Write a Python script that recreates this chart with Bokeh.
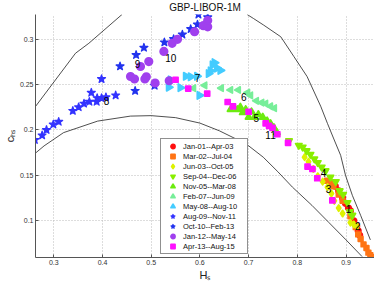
import numpy as np
from bokeh.plotting import figure
from bokeh.models import FixedTicker, Legend, LegendItem, Range1d, Title
from bokeh.embed import file_html
from bokeh.resources import INLINE
from bokeh.core.properties import value

FONT = "Liberation Sans"
title = "GBP-LIBOR-1M"
x_label = "H\u209b"
y_label = "c\u2095\u209b"

x_ticks = [0.3, 0.4, 0.5, 0.6, 0.7, 0.8, 0.9]
y_ticks = [0.1, 0.15, 0.2, 0.25, 0.3]
y_tick_labels = ["0.1", "0.15", "0.2", "0.25", "0.3"]

# boundary curves
upper_x = [0.2624, 0.3446, 0.3719, 0.44, np.nan, 0.697, 0.71, 0.731, 0.766, 0.793, 0.820, 0.848,
           0.862, 0.875, 0.889, 0.899, 0.913, 0.930, 0.950]
upper_y = [0.2258, 0.2844, 0.2953, 0.327, np.nan, 0.327, 0.3226, 0.3153, 0.3025, 0.2807, 0.2588, 0.2261,
           0.207, 0.190, 0.172, 0.150, 0.128, 0.106, 0.079]
lower_x = [0.2624, 0.28, 0.32, 0.39, 0.4575, 0.50, 0.55, 0.60, 0.64, 0.68, 0.70, 0.73, 0.76, 0.79,
           0.83, 0.865, 0.90, 0.933]
lower_y = [0.1745, 0.1824, 0.197, 0.2097, 0.2152, 0.2157, 0.2135, 0.2075, 0.199, 0.1885, 0.1825, 0.170,
           0.154, 0.137, 0.117, 0.098, 0.079, 0.0606]

series_names = ["Jan-01--Apr-03", "Mar-02--Jul-04", "Jun-03--Oct-05", "Sep-04--Dec-06",
                "Nov-05--Mar-08", "Feb-07--Jun-09", "May-08--Aug-10", "Aug-09--Nov-11",
                "Oct-10--Feb-13", "Jan-12--May-14", "Apr-13--Aug-15"]

x1 = [0.878, 0.885, 0.893, 0.899, 0.905, 0.909, 0.916, 0.922, 0.925, 0.928]
y1 = [0.138, 0.133, 0.125, 0.119, 0.114, 0.111, 0.100, 0.094, 0.089, 0.084]

x2 = [0.861, 0.868, 0.874, 0.885, 0.893, 0.909, 0.920, 0.925, 0.930, 0.936, 0.942, 0.946, 0.950, 0.952]
y2 = [0.144, 0.142, 0.138, 0.129, 0.122, 0.105, 0.093, 0.085, 0.080, 0.074, 0.070, 0.065, 0.062, 0.060]

x3 = [0.815, 0.823, 0.833, 0.842, 0.852, 0.862, 0.870, 0.876, 0.885, 0.893, 0.909, 0.916, 0.922]
y3 = [0.170, 0.165, 0.157, 0.149, 0.143, 0.137, 0.130, 0.122, 0.114, 0.108, 0.098, 0.096, 0.094]

x4 = [0.783, 0.803, 0.811, 0.819, 0.827, 0.835, 0.842, 0.850, 0.858, 0.868, 0.879, 0.887, 0.894,
      0.903, 0.908, 0.913]
y4 = [0.188, 0.183, 0.181, 0.177, 0.173, 0.168, 0.164, 0.159, 0.155, 0.148, 0.143, 0.133, 0.129,
      0.120, 0.110, 0.106]

x5 = [0.663, 0.677, 0.683, 0.688, 0.694, 0.700, 0.706, 0.712, 0.720, 0.729, 0.738, 0.745, 0.752, 0.758]
y5 = [0.2225, 0.2225, 0.225, 0.219, 0.2225, 0.214, 0.220, 0.214, 0.217, 0.214, 0.210, 0.207, 0.2025, 0.197]

x6 = [0.587, 0.610, 0.644, 0.663, 0.679, 0.698, 0.704, 0.716, 0.727, 0.735, 0.745, 0.753]
y6 = [0.246, 0.249, 0.246, 0.244, 0.244, 0.241, 0.238, 0.232, 0.230, 0.229, 0.226, 0.224]

x7 = [0.536, 0.540, 0.560, 0.571, 0.581, 0.594, 0.599, 0.618, 0.622, 0.626, 0.630, 0.635, 0.642]
y7 = [0.247, 0.255, 0.2465, 0.259, 0.2585, 0.259, 0.238, 0.262, 0.265, 0.2715, 0.274, 0.268, 0.2655]

x8 = [0.261, 0.276, 0.285, 0.299, 0.310, 0.339, 0.351, 0.362, 0.373, 0.377, 0.388, 0.389, 0.398,
      0.407, 0.398, 0.427]
y8 = [0.189, 0.194, 0.200, 0.206, 0.209, 0.221, 0.225, 0.229, 0.231, 0.241, 0.231, 0.235, 0.235,
      0.236, 0.256, 0.238]

x9 = [0.436, 0.467, 0.469, 0.485, 0.507, 0.527, 0.546, 0.564, 0.581, 0.595, 0.597, 0.616]
y9 = [0.270, 0.243, 0.2825, 0.2905, 0.2487, 0.2964, 0.300, 0.305, 0.311, 0.316, 0.327, 0.324]

x10 = [0.4575, 0.4657, 0.478, 0.487, 0.490, 0.495, 0.508, 0.526, 0.537, 0.543, 0.554, 0.589, 0.607,
       0.616, 0.616]
y10 = [0.2588, 0.256, 0.2698, 0.256, 0.2585, 0.2752, 0.2516, 0.2864, 0.2541, 0.2953, 0.2997, 0.308,
       0.3147, 0.3204, 0.3134]

x11 = [0.550, 0.576, 0.615, 0.657, 0.668, 0.700, 0.735, 0.742, 0.749, 0.759, 0.781, 0.821, 0.831,
       0.841, 0.872]
y11 = [0.2552, 0.2454, 0.240, 0.2307, 0.2258, 0.220, 0.2072, 0.2045, 0.2023, 0.1952, 0.1857, 0.1597,
       0.157, 0.1468, 0.1224]

label_x = [0.905, 0.924, 0.864, 0.854, 0.716, 0.690, 0.595, 0.408, 0.472, 0.540, 0.745]
label_y = [0.113, 0.094, 0.135, 0.153, 0.213, 0.236, 0.257, 0.232, 0.273, 0.279, 0.194]
label_text = ["1", "2", "3", "4", "5", "6", "7", "8", "9", "10", "11"]

xs = [x1, x2, x3, x4, x5, x6, x7, x8, x9, x10, x11]
ys = [y1, y2, y3, y4, y5, y6, y7, y8, y9, y10, y11]
markers = ["circle", "square", "diamond", "inverted_triangle", "triangle", "triangle", "triangle",
           "star", "star", "circle", "square"]
angles = [0, 0, 0, 0, 0, np.pi / 2, -np.pi / 2, 0, 0, 0, 0]
sizes = [5.4, 4.6, 6.3, 6.3, 6.3, 6.3, 7.3, 8.3, 8.3, 7.4, 4.9]
widths = [1.8, 1.8, 1.8, 1.8, 1.8, 1.8, 1.8, 1.3, 1.3, 1.8, 1.8]
colors = ["#FF1010", "#FF7414", "#DDF200", "#88EE00", "#6CEB10", "#77EE99", "#44CCFF",
          "#3333FF", "#2233EE", "#A040EE", "#FF10FF"]

p = figure(width=374, height=283, output_backend="svg", toolbar_location=None, title=None,
           x_range=Range1d(0.2624, 0.9585), y_range=Range1d(0.0596, 0.327),
           min_border_left=35, min_border_right=0, min_border_top=14, min_border_bottom=24)
p.outline_line_color = None
p.background_fill_color = "white"
p.border_fill_color = "white"

p.add_layout(Title(text=title, align="center", vertical_align="top", text_font_size="10px",
                   text_font=FONT, text_font_style="normal", text_color="#111111", standoff=0),
             "above")

p.xaxis.ticker = FixedTicker(ticks=x_ticks)
p.yaxis.ticker = FixedTicker(ticks=y_ticks)
p.yaxis.major_label_overrides = {t: s for t, s in zip(y_ticks, y_tick_labels)}
p.xaxis.axis_label = x_label
p.yaxis.axis_label = y_label
for ax in (p.xaxis[0], p.yaxis[0]):
    ax.major_tick_in = 3
    ax.major_tick_out = 0
    ax.minor_tick_line_color = None
    ax.axis_line_color = "#555555"
    ax.major_tick_line_color = "#555555"
    ax.major_label_text_font_size = "7px"
    ax.major_label_text_color = "#333333"
    ax.major_label_text_font = FONT
    ax.major_label_standoff = 2
    ax.axis_label_text_font = FONT
    ax.axis_label_text_font_size = "11px"
    ax.axis_label_text_font_style = "normal"
    ax.axis_label_text_color = "#222222"
    ax.axis_label_standoff = 1
for g in (p.xgrid[0], p.ygrid[0]):
    g.grid_line_color = "#BBBBBB"
    g.grid_line_dash = "1 2"
    g.grid_line_width = 1
p.xgrid.ticker = FixedTicker(ticks=x_ticks)
p.ygrid.ticker = FixedTicker(ticks=y_ticks)

p.line(upper_x, upper_y, line_color="#222222", line_width=0.8)
p.line(lower_x, lower_y, line_color="#222222", line_width=0.8)

items = []
for name, x, y, m, a, s, w, c in zip(series_names, xs, ys, markers, angles, sizes, widths, colors):
    r = p.scatter(x, y, marker=m, angle=a, size=s, fill_color=c, line_color=c, line_width=w,
                  line_join="round")
    items.append(LegendItem(label=name, renderers=[r]))

p.text(x=label_x, y=label_y, text=label_text, text_font=value(FONT), text_font_size="10px",
       text_align="center", text_baseline="middle", text_color="black")

legend = Legend(items=items, location=(125, 3), padding=2, spacing=0, glyph_height=10,
                glyph_width=19, label_height=10, label_width=62, label_standoff=1, margin=0,
                label_text_font_size="7.5px", label_text_font=FONT, label_text_color="#111111",
                border_line_color="#222222", border_line_width=0.8,
                background_fill_color="white", background_fill_alpha=1.0)
p.add_layout(legend)

open("out.html", "w").write(file_html(p, INLINE))
